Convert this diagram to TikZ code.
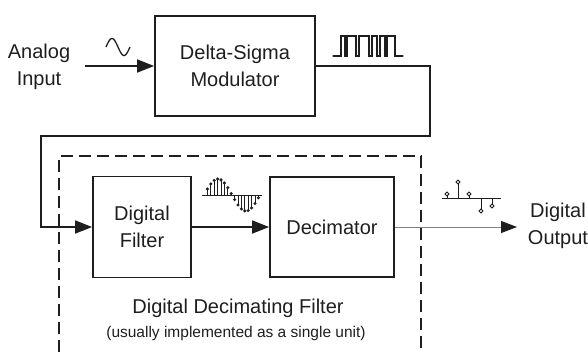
\documentclass[tikz,border=0pt]{standalone}
\usepackage{fontspec}
\setmainfont{Liberation Sans}
\usetikzlibrary{arrows.meta}
\definecolor{ink}{HTML}{1E1E1E}
\tikzset{
  blockbox/.style={draw=ink, line width=1.8pt, align=center, inner sep=0pt,
    font=\fontsize{20}{27}\selectfont, text=ink},
  plainlabel/.style={align=center, inner sep=0pt, font=\fontsize{20}{27}\selectfont, text=ink},
  wire/.style={draw=ink, line width=1.8pt},
  flow/.style={wire, -{Triangle[length=17pt,width=13pt]}},
  thinflow/.style={draw=gray, line width=0.9pt, -{Triangle[length=16pt,width=12pt,color=ink,fill=ink]}},
  unitframe/.style={draw=ink, line width=1.5pt, dash pattern=on 12pt off 6pt},
  sig/.style={draw=ink, line width=1.1pt},
  dotmark/.style={draw=ink, fill=white, line width=0.9pt}
}
\begin{document}
\begin{tikzpicture}[x=1pt,y=-1pt]
\useasboundingbox (0,0) rectangle (588,353);
\clip (0,0) rectangle (588,353);

% dashed outline of the combined decimating filter
\draw[unitframe] (59,370) -- (59,156) -- (421,156) -- (421,370);

% blocks
\node[blockbox, minimum width=160pt, minimum height=100pt] (dsm) at (235,66) {Delta-Sigma\\Modulator};
\node[blockbox, minimum width=98pt, minimum height=101pt] (filt) at (142,227) {Digital\\Filter};
\node[blockbox, minimum width=124pt, minimum height=100pt] (dec) at (332,227) {Decimator};

% input / output labels
\node[plainlabel] (ain) at (39,67) {Analog\\Input};
\node[plainlabel] (dout) at (558,226) {Digital\\Output};
\node[plainlabel] (ddf) at (238,308) {Digital Decimating Filter};
\node[plainlabel, font=\fontsize{15.5}{18}\selectfont] (ddfnote) at (236,333) {(usually implemented as a single unit)};

% wiring
\coordinate (inbegin) at (85,66);
\coordinate (turnA) at (430,66);
\coordinate (turnB) at (430,136);
\coordinate (turnC) at (41,136);
\coordinate (turnD) at (41,227);
\coordinate (outtip) at (517,227);

\draw[flow] (inbegin) -- (dsm.west);
\draw[flow] (dsm.east) -- (turnA) -- (turnB) -- (turnC) -- (turnD) -- (filt.west);
\draw[flow] (filt.east) -- (dec.west);
\draw[thinflow] (dec.east) -- (outtip);

% analog sine
\draw[sig, line width=1.3pt] plot[domain=0:360, samples=50, smooth] ({106+\x/15},{47-8.5*sin(\x)});

% bit stream
\draw[sig, line cap=round, line join=miter]
  (333,56) -- (341,56) -- (341,36) -- (345,36) -- (345,56) -- (347,56) -- (347,36)
  -- (356,36) -- (356,56) -- (359,56) -- (359,36) -- (369,36) -- (369,56)
  -- (372,56) -- (372,36) -- (377,36) -- (377,56) -- (380,56) -- (380,36)
  -- (385,36) -- (385,56) -- (387,56) -- (387,36) -- (395,36) -- (395,56) -- (403,56);

% filtered samples
\draw[sig, line width=1pt] (202,195) -- (262,195);
\foreach \k in {1,...,16} {
  \pgfmathsetmacro{\sx}{204+3.4*\k}
  \pgfmathsetmacro{\sy}{195-16*sin(21.86*\k)}
  \draw[sig, line width=0.9pt] (\sx,195) -- (\sx,\sy);
  \fill[ink] (\sx,\sy) circle (1.7pt);
}

% decimated samples
\draw[sig, line width=1pt] (442,198) -- (501,198);
\draw[sig, line width=1pt] (447,198) -- (447,194) (458,198) -- (458,182) (469,198) -- (469,194)
  (481,198) -- (481,211) (492,198) -- (492,206);
\foreach \p in {(447,194),(458,182),(469,194),(481,211),(492,206)}
  \draw[dotmark] \p circle (1.9pt);
\end{tikzpicture}
\end{document}
